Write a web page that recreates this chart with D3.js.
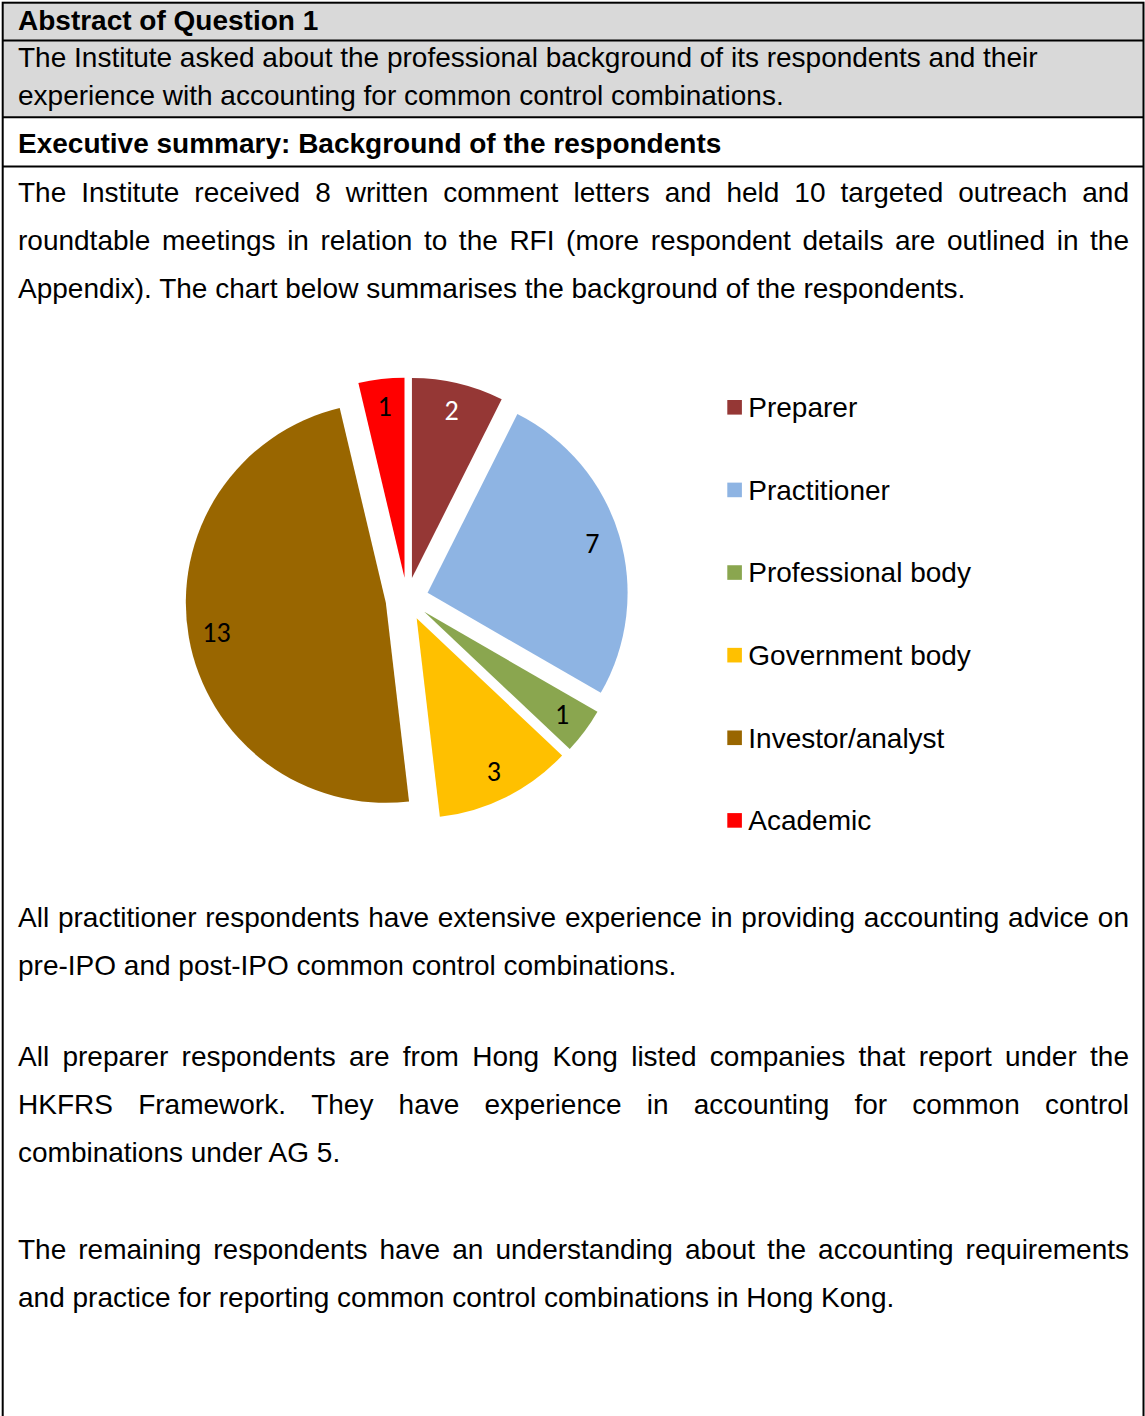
<!DOCTYPE html>
<html><head><meta charset="utf-8">
<script src="https://cdn.jsdelivr.net/npm/d3@7"></script>
<style>html,body{margin:0;padding:0;background:#fff}svg{display:block}</style>
</head><body>
<script>
// ---------- data ----------
const categories = ["Preparer","Practitioner","Professional body","Government body","Investor/analyst","Academic"];
const values = [2,7,1,3,13,1];
const colors = ["#953735","#8EB4E3","#8AA64F","#FFC000","#996600","#FF0000"];
const labelColors = ["#FFFFFF","#000000","#000000","#000000","#000000","#000000"];

const titleText = "Abstract of Question 1";
const introLines = [
  "The Institute asked about the professional background of its respondents and their",
  "experience with accounting for common control combinations."
];
const sectionTitle = "Executive summary: Background of the respondents";
const para1 = [
  "The Institute received 8 written comment letters and held 10 targeted outreach and",
  "roundtable meetings in relation to the RFI (more respondent details are outlined in the",
  "Appendix). The chart below summarises the background of the respondents."
];
const para2 = [
  "All practitioner respondents have extensive experience in providing accounting advice on",
  "pre-IPO and post-IPO common control combinations."
];
const para3 = [
  "All preparer respondents are from Hong Kong listed companies that report under the",
  "HKFRS Framework. They have experience in accounting for common control",
  "combinations under AG 5."
];
const para4 = [
  "The remaining respondents have an understanding about the accounting requirements",
  "and practice for reporting common control combinations in Hong Kong."
];

// ---------- layout ----------
const W = 1145, H = 1416;
const svg = d3.select("body").append("svg").attr("width", W).attr("height", H);
const FONT = "'Liberation Sans', Arial, Helvetica, sans-serif";
const FS = 28;
const left = 18, right = 1129;

// table background + borders
svg.append("rect").attr("x", 2.7).attr("y", 2.7).attr("width", 1140.8).attr("height", 114.6).attr("fill", "#D9D9D9");
svg.append("rect").attr("x", 2.7).attr("y", 2.7).attr("width", 1140.8).attr("height", H + 20)
  .attr("fill", "none").attr("stroke", "#000").attr("stroke-width", 2);
[40.6, 117.3, 166.4].forEach(y => {
  svg.append("line").attr("x1", 2.7).attr("x2", 1143.5).attr("y1", y).attr("y2", y)
    .attr("stroke", "#000").attr("stroke-width", 2);
});

function plainLine(text, y, bold) {
  svg.append("text").attr("x", left).attr("y", y)
    .attr("font-family", FONT).attr("font-size", FS)
    .attr("font-weight", bold ? "bold" : "normal").attr("fill", "#000")
    .text(text);
}
function justifiedLine(text, y) {
  const words = text.split(" ");
  const g = svg.append("g");
  const nodes = words.map(w => g.append("text").attr("y", y)
      .attr("font-family", FONT).attr("font-size", FS).attr("fill", "#000").text(w));
  const widths = nodes.map(n => n.node().getComputedTextLength());
  const total = d3.sum(widths);
  const gap = (right - left - total) / (words.length - 1);
  let x = left;
  nodes.forEach((n, i) => { n.attr("x", x); x += widths[i] + gap; });
}
function paragraph(lines, y0, lh) {
  lines.forEach((t, i) => {
    if (i < lines.length - 1) justifiedLine(t, y0 + i * lh);
    else plainLine(t, y0 + i * lh, false);
  });
}

plainLine(titleText, 29.5, true);
introLines.forEach((t, i) => plainLine(t, 67.2 + i * 38, false));
plainLine(sectionTitle, 153.2, true);
paragraph(para1, 201.5, 48);
paragraph(para2, 926.5, 48);
paragraph(para3, 1065.5, 48);
paragraph(para4, 1258.5, 48);

// ---------- pie ----------
const cx = 407, cy = 599, R = 200, explode = 21.5;
const pieData = d3.pie().sort(null).value(d => d)(values);
const arc = d3.arc().innerRadius(0).outerRadius(R);
const labelArc = d3.arc().innerRadius(R * 0.86).outerRadius(R * 0.86);
const gPie = svg.append("g").attr("transform", `translate(${cx},${cy})`);
const slices = gPie.selectAll("g.slice").data(pieData).join("g").attr("class", "slice")
  .attr("transform", d => {
    const m = (d.startAngle + d.endAngle) / 2;
    return `translate(${Math.sin(m) * explode},${-Math.cos(m) * explode})`;
  });
slices.append("path").attr("d", arc).attr("fill", (d, i) => colors[i]);
slices.append("text")
  .attr("transform", d => `translate(${labelArc.centroid(d)})`)
  .attr("text-anchor", "middle").attr("dominant-baseline", "central")
  .attr("font-family", "Carlito, Lato, 'Open Sans', sans-serif").attr("font-size", 28)
  .attr("fill", (d, i) => labelColors[i])
  .text(d => d.data);

// ---------- legend ----------
const ly = d3.scalePoint().domain(categories).range([407.3, 820.4]);
const leg = svg.append("g").selectAll("g").data(categories).join("g")
  .attr("transform", d => `translate(727.3,${ly(d)})`);
leg.append("rect").attr("x", 0).attr("y", -7.3).attr("width", 14.6).attr("height", 14.6)
  .attr("fill", (d, i) => colors[i]);
leg.append("text").attr("x", 21).attr("y", 9.8)
  .attr("font-family", FONT).attr("font-size", FS).attr("fill", "#000").text(d => d);
</script>
</body></html>
